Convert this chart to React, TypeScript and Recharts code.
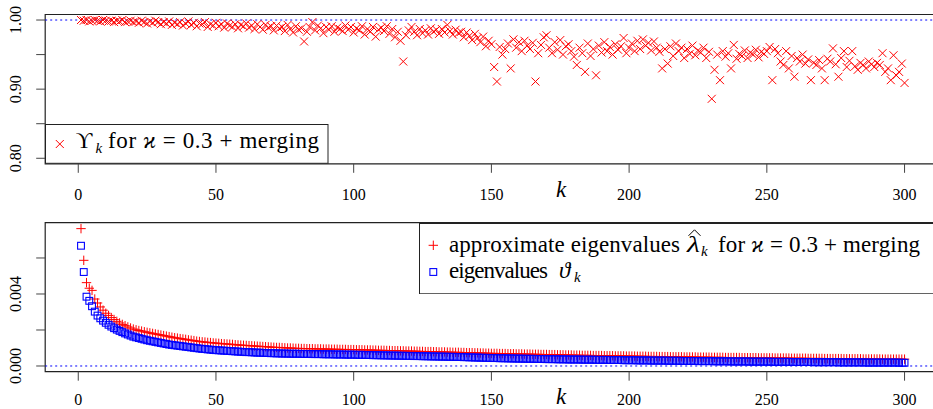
import {
  ScatterChart,
  Scatter,
  XAxis,
  YAxis,
  ReferenceLine,
  ReferenceArea,
  Legend,
  Label,
} from "recharts";

// k = 1..300
const kValues = Array.from({ length: 300 }, (_, i) => i + 1);
const xTicks = [0, 50, 100, 150, 200, 250, 300];

// top panel: Upsilon_k for kappa = 0.3 + merging
const upsilon = [
  1.000, 0.999, 1.000, 0.998, 0.999, 1.000, 0.999, 0.998, 1.000, 0.999,
  0.998, 0.999, 0.997, 0.999, 0.998, 1.000, 0.997, 0.998, 0.999, 0.997,
  0.998, 0.996, 0.999, 0.997, 0.995, 0.998, 0.996, 0.999, 0.997, 0.994,
  0.997, 0.995, 0.998, 0.993, 0.996, 0.994, 0.997, 0.992, 0.995, 0.998,
  0.993, 0.996, 0.991, 0.995, 0.994, 0.997, 0.990, 0.994, 0.992, 0.996,
  0.991, 0.994, 0.989, 0.995, 0.992, 0.990, 0.994, 0.988, 0.993, 0.991,
  0.995, 0.989, 0.992, 0.987, 0.994, 0.990, 0.986, 0.993, 0.989, 0.991,
  0.985, 0.992, 0.988, 0.990, 0.984, 0.993, 0.987, 0.982, 0.991, 0.986,
  0.988, 0.969, 0.983, 0.990, 0.997, 0.985, 0.992, 0.988, 0.981, 0.990,
  0.986, 0.991, 0.983, 0.989, 0.987, 0.984, 0.992, 0.986, 0.990, 0.982,
  0.988, 0.985, 0.991, 0.979, 0.987, 0.983, 0.990, 0.976, 0.986, 0.989,
  0.984, 0.991, 0.980, 0.987, 0.975, 0.983, 0.970, 0.940, 0.978, 0.985,
  0.990, 0.983, 0.978, 0.987, 0.981, 0.985, 0.979, 0.988, 0.983, 0.986,
  0.980, 0.987, 0.982, 0.993, 0.984, 0.979, 0.986, 0.981, 0.983, 0.975,
  0.982, 0.977, 0.971, 0.980, 0.974, 0.968, 0.976, 0.962, 0.970, 0.965,
  0.932, 0.911, 0.961, 0.950, 0.958, 0.966, 0.930, 0.972, 0.960, 0.968,
  0.955, 0.970, 0.963, 0.958, 0.967, 0.911, 0.952, 0.964, 0.975, 0.978,
  0.960, 0.952, 0.968, 0.957, 0.971, 0.950, 0.962, 0.965, 0.955, 0.947,
  0.935, 0.960, 0.952, 0.925, 0.966, 0.948, 0.958, 0.920, 0.963, 0.953,
  0.968, 0.955, 0.961, 0.950, 0.965, 0.957, 0.962, 0.974, 0.952, 0.960,
  0.966, 0.955, 0.970, 0.958, 0.972, 0.963, 0.967, 0.956, 0.969, 0.960,
  0.954, 0.930, 0.958, 0.937, 0.962, 0.948, 0.966, 0.955, 0.960, 0.945,
  0.958, 0.951, 0.963, 0.949, 0.956, 0.953, 0.960, 0.945, 0.954, 0.886,
  0.928, 0.950, 0.913, 0.955, 0.947, 0.952, 0.930, 0.964, 0.944, 0.951,
  0.948, 0.956, 0.945, 0.953, 0.950, 0.957, 0.946, 0.954, 0.951, 0.955,
  0.961, 0.913, 0.958, 0.952, 0.940, 0.935, 0.955, 0.930, 0.948, 0.918,
  0.945, 0.940, 0.950, 0.937, 0.943, 0.913, 0.938, 0.935, 0.942, 0.930,
  0.913, 0.944, 0.940, 0.959, 0.936, 0.918, 0.945, 0.955, 0.932, 0.941,
  0.955, 0.933, 0.928, 0.938, 0.935, 0.930, 0.940, 0.936, 0.932, 0.938,
  0.935, 0.952, 0.925, 0.930, 0.913, 0.949, 0.920, 0.925, 0.937, 0.909,
];

// bottom panel, both in units of 1e-5
const lambdaHat = [
  763, 587, 463, 432, 420, 372, 350, 328, 310, 293,
  281, 269, 258, 248, 239, 231, 224, 217, 211, 205,
  201, 197, 194, 190, 187, 184, 181, 178, 175, 172,
  169, 166, 163, 160, 157, 155, 152, 150, 148, 145,
  143, 141, 138, 136, 134, 133, 131, 130, 128, 127,
  126, 124, 123, 122, 121, 120, 118, 117, 116, 115,
  114, 113, 112, 111, 110, 109, 108, 107, 106, 105,
  104, 103, 103, 102, 101, 100, 100, 99, 98, 98,
  97, 97, 96, 96, 96, 95, 95, 95, 94, 94,
  94, 93, 93, 93, 92, 92, 92, 91, 91, 91,
  90, 90, 90, 89, 89, 89, 88, 88, 87, 87,
  87, 86, 86, 85, 85, 85, 84, 84, 83, 83,
  83, 82, 82, 81, 81, 80, 80, 80, 79, 79,
  78, 78, 78, 77, 77, 76, 76, 76, 75, 75,
  74, 74, 74, 73, 73, 72, 72, 71, 71, 70,
  70, 70, 69, 69, 69, 68, 68, 68, 67, 67,
  67, 66, 66, 66, 65, 65, 65, 64, 64, 64,
  63, 63, 63, 62, 62, 62, 61, 61, 61, 60,
  60, 60, 59, 59, 59, 59, 58, 58, 58, 58,
  57, 57, 57, 57, 56, 56, 56, 56, 55, 55,
  55, 55, 54, 54, 54, 54, 53, 53, 53, 53,
  52, 52, 52, 52, 51, 51, 51, 51, 51, 50,
  50, 50, 50, 50, 49, 49, 49, 49, 49, 48,
  48, 48, 48, 48, 47, 47, 47, 47, 47, 47,
  46, 46, 46, 46, 46, 46, 45, 45, 45, 45,
  45, 45, 44, 44, 44, 44, 44, 44, 43, 43,
  43, 43, 43, 43, 42, 42, 42, 42, 42, 42,
  41, 41, 41, 41, 41, 41, 41, 40, 40, 40,
  40, 40, 40, 40, 39, 39, 39, 39, 39, 39,
  39, 38, 38, 38, 38, 38, 38, 38, 38, 38,
];

const theta = [
  668, 522, 385, 362, 332, 302, 280, 265, 252, 240,
  229, 219, 210, 202, 195, 188, 181, 175, 169, 163,
  159, 155, 151, 147, 143, 140, 137, 134, 131, 128,
  125, 122, 119, 117, 115, 113, 111, 109, 107, 105,
  103, 101, 99, 97, 95, 94, 92, 91, 89, 88,
  87, 86, 85, 84, 83, 82, 81, 80, 79, 78,
  77, 77, 76, 75, 74, 74, 73, 72, 72, 71,
  71, 70, 70, 69, 69, 69, 68, 68, 68, 68,
  67, 67, 67, 67, 66, 66, 66, 66, 65, 65,
  65, 65, 64, 64, 64, 64, 63, 63, 63, 63,
  62, 62, 62, 61, 61, 61, 60, 60, 60, 59,
  59, 59, 58, 58, 58, 57, 57, 57, 56, 56,
  56, 55, 55, 55, 54, 54, 54, 53, 53, 53,
  52, 52, 52, 51, 51, 51, 50, 50, 50, 49,
  49, 48, 48, 47, 47, 46, 46, 45, 45, 44,
  44, 44, 43, 43, 43, 42, 42, 42, 41, 41,
  41, 40, 40, 40, 40, 39, 39, 39, 39, 38,
  38, 38, 38, 37, 37, 37, 37, 36, 36, 36,
  36, 36, 35, 35, 35, 35, 35, 34, 34, 34,
  34, 34, 33, 33, 33, 33, 33, 32, 32, 32,
  32, 32, 31, 31, 31, 31, 31, 30, 30, 30,
  30, 30, 30, 29, 29, 29, 29, 29, 28, 28,
  28, 28, 28, 28, 27, 27, 27, 27, 27, 27,
  26, 26, 26, 26, 26, 26, 25, 25, 25, 25,
  25, 25, 25, 24, 24, 24, 24, 24, 24, 24,
  24, 23, 23, 23, 23, 23, 23, 23, 22, 22,
  22, 22, 22, 22, 22, 22, 21, 21, 21, 21,
  21, 21, 21, 21, 21, 20, 20, 20, 20, 20,
  20, 20, 20, 20, 20, 19, 19, 19, 19, 19,
  19, 19, 19, 19, 19, 19, 19, 18, 18, 18,
];

const topData = kValues.map((k, i) => ({ k, v: upsilon[i] }));
const hatData = kValues.map((k, i) => ({ k, v: lambdaHat[i] }));
const thetaData = kValues.map((k, i) => ({ k, v: theta[i] }));

const FONT = "Liberation Serif, Times New Roman, DejaVu Serif, serif";
const RED = "#ff0000";
const BLUE = "#0000ff";
const INK = "#222";

const crossShape = (p: any) => {
  const { cx, cy } = p;
  const s = 4;
  return (
    <path
      d={`M${cx - s},${cy - s}L${cx + s},${cy + s}M${cx - s},${cy + s}L${cx + s},${cy - s}`}
      stroke={RED}
      strokeWidth={1}
      fill="none"
    />
  );
};

const plusShape = (p: any) => {
  const { cx, cy } = p;
  const s = 4.7;
  return (
    <path
      d={`M${cx - s},${cy}L${cx + s},${cy}M${cx},${cy - s}L${cx},${cy + s}`}
      stroke={RED}
      strokeWidth={1}
      fill="none"
    />
  );
};

const squareShape = (p: any) => {
  const { cx, cy } = p;
  const s = 3.4;
  return (
    <rect
      x={cx - s}
      y={cy - s}
      width={2 * s}
      height={2 * s}
      stroke={BLUE}
      strokeWidth={1.1}
      fill="none"
    />
  );
};

const xTick = (baseline: number) => (p: any) => (
  <text
    x={p.x}
    y={baseline}
    textAnchor="middle"
    fill="#000"
    style={{ fontFamily: FONT, fontSize: 16 }}
  >
    {p.payload.value}
  </text>
);

const yTick = (labels: Record<string, string>) => (p: any) => {
  const txt = labels[String(p.payload.value)];
  if (!txt) return <g />;
  return (
    <text
      x={21.5}
      y={p.y}
      transform={`rotate(-90 21.5 ${p.y})`}
      textAnchor="middle"
      fill="#000"
      style={{ fontFamily: FONT, fontSize: 16 }}
    >
      {txt}
    </text>
  );
};

const kLabel = (baseline: number) => () => (
  <text
    x={561}
    y={baseline}
    textAnchor="middle"
    fill="#000"
    style={{ fontFamily: FONT, fontSize: 23, fontStyle: "italic" }}
  >
    k
  </text>
);

const TXT = { fontSize: 23, fontFamily: FONT };
const SUB = { fontSize: 15, fontFamily: FONT, fontStyle: "italic" };

const TopLegend = () => (
  <svg width={283.5} height={39.8} style={{ display: "block" }}>
    <rect x={0.5} y={0.5} width={282.5} height={38.8} fill="#fff" stroke={INK} />
    {crossShape({ cx: 14.8, cy: 20 })}
    <text x={30.8} y={24.3} fill="#000" style={TXT}>
      ϒ
    </text>
    <text x={50.5} y={28.7} fill="#000" style={SUB}>
      k
    </text>
    <text x={63.1} y={24.3} fill="#000" textLength={211} style={{ ...TXT, whiteSpace: "pre" }}>
      for <tspan style={{ fontStyle: "italic" }}>ϰ</tspan> = 0.3 + merging
    </text>
  </svg>
);

const BottomLegend = () => (
  <svg width={518.6} height={71.3} style={{ display: "block" }}>
    <rect x={0.5} y={0.5} width={520} height={70.3} fill="#fff" stroke={INK} />
    {plusShape({ cx: 14.3, cy: 22.3 })}
    <text x={30} y={28.6} fill="#000" textLength={231} style={TXT}>
      approximate eigenvalues
    </text>
    <text
      x={268}
      y={28.6}
      fill="#000"
      textLength={13}
      lengthAdjust="spacingAndGlyphs"
      style={{ ...TXT, fontStyle: "italic" }}
    >
      λ
    </text>
    <path d="M269.5,12.8L275.5,6.8L281.5,12.8" stroke="#000" strokeWidth={1} fill="none" />
    <text x={282} y={33} fill="#000" style={SUB}>
      k
    </text>
    <text x={299} y={28.6} fill="#000" textLength={202} style={{ ...TXT, whiteSpace: "pre" }}>
      for <tspan style={{ fontStyle: "italic" }}>ϰ</tspan> = 0.3 + merging
    </text>
    {squareShape({ cx: 14.3, cy: 49 })}
    <text x={30} y={54.6} fill="#000" textLength={99} style={TXT}>
      eigenvalues
    </text>
    <text x={140} y={54.6} fill="#000" style={{ ...TXT, fontStyle: "italic" }}>
      ϑ
    </text>
    <text x={155} y={59} fill="#000" style={SUB}>
      k
    </text>
  </svg>
);

const X_DOMAIN: [number, number] = [-12, 312];
const TOP_DOMAIN: [number, number] = [0.792, 1.008];
const BOT_DOMAIN: [number, number] = [-31.7, 796];

export default function App() {
  return (
    <div
      style={{
        position: "absolute",
        left: 0,
        top: 0,
        width: 933,
        height: 409,
        overflow: "hidden",
        background: "#fff",
        fontFamily: FONT,
      }}
    >
      <div style={{ position: "absolute", left: 0, top: 0 }}>
        <ScatterChart
          width={960}
          height={205}
          margin={{ top: 14.5, right: 22.4, bottom: 1.2, left: 5.2 }}
        >
          <XAxis
            type="number"
            dataKey="k"
            domain={X_DOMAIN}
            ticks={xTicks}
            allowDataOverflow
            axisLine={false}
            tickSize={9}
            tickLine={{ stroke: "#444" }}
            tick={xTick(199.5)}
            height={40}
          >
            <Label content={kLabel(197)} />
          </XAxis>
          <YAxis
            type="number"
            dataKey="v"
            domain={TOP_DOMAIN}
            ticks={[0.8, 0.85, 0.9, 0.95, 1.0]}
            allowDataOverflow
            axisLine={false}
            tickSize={9}
            tickLine={{ stroke: "#444" }}
            tick={yTick({ "0.8": "0.80", "0.9": "0.90", "1": "1.00" })}
            width={40}
          />
          <ReferenceLine y={1} stroke={BLUE} strokeDasharray="2 3" strokeWidth={1} />
          <Scatter
            name="Upsilon"
            data={topData}
            shape={crossShape}
            isAnimationActive={false}
          />
          <ReferenceArea
            x1={X_DOMAIN[0]}
            x2={X_DOMAIN[1]}
            y1={TOP_DOMAIN[0]}
            y2={TOP_DOMAIN[1]}
            fill="none"
            fillOpacity={0}
            stroke={INK}
            strokeWidth={1.2}
            ifOverflow="visible"
          />
          <Legend
            layout="vertical"
            align="center"
            verticalAlign="middle"
            wrapperStyle={{ left: 45.2, top: 124, width: 283.5, height: 39.8, margin: 0, padding: 0 }}
            content={() => <TopLegend />}
          />
        </ScatterChart>
      </div>
      <div style={{ position: "absolute", left: 0, top: 205 }}>
        <ScatterChart
          width={960}
          height={204}
          margin={{ top: 17.7, right: 22.4, bottom: 1.3, left: 5.2 }}
        >
          <XAxis
            type="number"
            dataKey="k"
            domain={X_DOMAIN}
            ticks={xTicks}
            allowDataOverflow
            axisLine={false}
            tickSize={9}
            tickLine={{ stroke: "#444" }}
            tick={xTick(200)}
            height={36}
          >
            <Label content={kLabel(199)} />
          </XAxis>
          <YAxis
            type="number"
            dataKey="v"
            domain={BOT_DOMAIN}
            ticks={[0, 200, 400, 600]}
            allowDataOverflow
            axisLine={false}
            tickSize={9}
            tickLine={{ stroke: "#444" }}
            tick={yTick({ "0": "0.000", "400": "0.004" })}
            width={40}
          />
          <ReferenceLine y={0} stroke={BLUE} strokeDasharray="2 3" strokeWidth={1} />
          <Scatter
            name="approximate eigenvalues"
            data={hatData}
            shape={plusShape}
            isAnimationActive={false}
          />
          <Scatter
            name="eigenvalues"
            data={thetaData}
            shape={squareShape}
            isAnimationActive={false}
          />
          <ReferenceArea
            x1={X_DOMAIN[0]}
            x2={X_DOMAIN[1]}
            y1={BOT_DOMAIN[0]}
            y2={BOT_DOMAIN[1]}
            fill="none"
            fillOpacity={0}
            stroke={INK}
            strokeWidth={1.2}
            ifOverflow="visible"
          />
          <Legend
            layout="vertical"
            align="center"
            verticalAlign="middle"
            wrapperStyle={{ left: 419, top: 17.7, width: 518.6, height: 71.3, margin: 0, padding: 0 }}
            content={() => <BottomLegend />}
          />
        </ScatterChart>
      </div>
    </div>
  );
}
